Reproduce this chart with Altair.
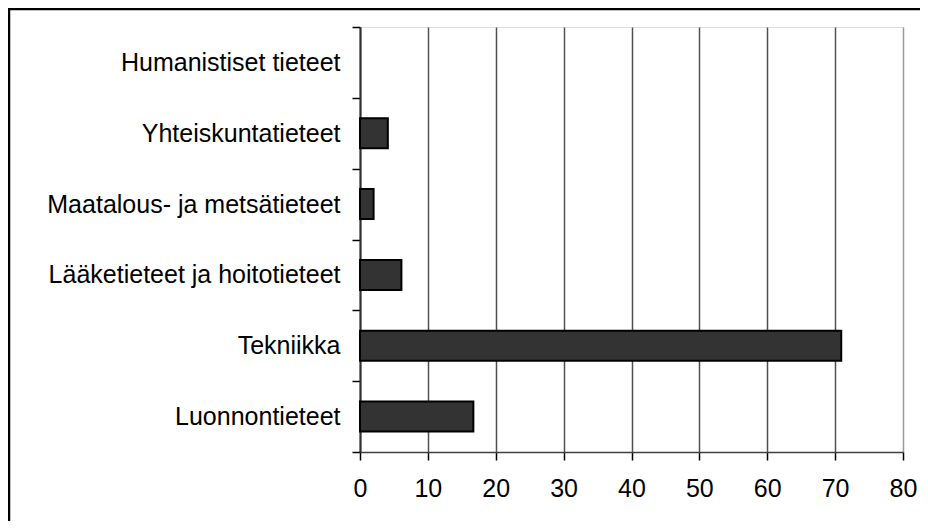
import altair as alt
import pandas as pd

categories = [
    "Humanistiset tieteet",
    "Yhteiskuntatieteet",
    "Maatalous- ja metsätieteet",
    "Lääketieteet ja hoitotieteet",
    "Tekniikka",
    "Luonnontieteet",
]
values = [0, 4.1, 2.0, 6.1, 70.9, 16.7]
x_ticks = [0, 10, 20, 30, 40, 50, 60, 70, 80]

df = pd.DataFrame({"ala": categories, "arvo": values})
frame_df = pd.DataFrame({"k": [0]})

FONT = "Liberation Sans"

bars = alt.Chart(df).mark_bar(
    fill="#333333", stroke="#000000", height={"band": 0.424}
).encode(
    x=alt.X(
        "arvo:Q",
        scale=alt.Scale(domain=[0, 80], nice=False),
        axis=alt.Axis(
            values=x_ticks,
            title=None,
            grid=True,
            gridColor={"condition": {"test": "datum.value == 80", "value": "#9a9a9a"}, "value": "#505050"},
            gridWidth=1.5,
            domainColor="#404040",
            domainWidth=1.5,
            tickColor="#000000",
            tickSize=8,
            tickWidth=1.5,
            labelFont=FONT,
            labelFontSize=25,
            labelColor="#000000",
            labelPadding=16,
            labelFlush=False,
        ),
    ),
    y=alt.Y(
        "ala:N",
        sort=categories,
        scale=alt.Scale(paddingInner=0, paddingOuter=0),
        axis=alt.Axis(
            title=None,
            grid=False,
            tickBand="extent",
            domainColor="#303030",
            domainWidth=2,
            tickColor="#000000",
            tickSize=8,
            tickWidth=1.5,
            labelFont=FONT,
            labelFontSize=25,
            labelColor="#000000",
            labelPadding=12,
            labelLimit=400,
            minExtent=352,
            maxExtent=352,
        ),
    ),
    strokeWidth=alt.condition("datum.arvo > 0", alt.value(2), alt.value(0)),
)

top_line = alt.Chart(frame_df).mark_rule(color="#000000", strokeWidth=2.5).encode(
    x=alt.value(-352), x2=alt.value(600), y=alt.value(-18)
)
left_line = alt.Chart(frame_df).mark_rule(color="#000000", strokeWidth=2.5).encode(
    x=alt.value(-351), y=alt.value(-19), y2=alt.value(520)
)

chart = alt.layer(bars, top_line, left_line).properties(
    width=543,
    height=425,
    autosize=alt.AutoSizeParams(type="none"),
    padding={"left": 352, "top": 19, "right": 17, "bottom": 69},
).configure_view(
    stroke="#9a9a9a", strokeWidth=2
).configure(
    background="#ffffff"
)

chart.save("out.html", embed_options={"renderer": "svg", "actions": False})
